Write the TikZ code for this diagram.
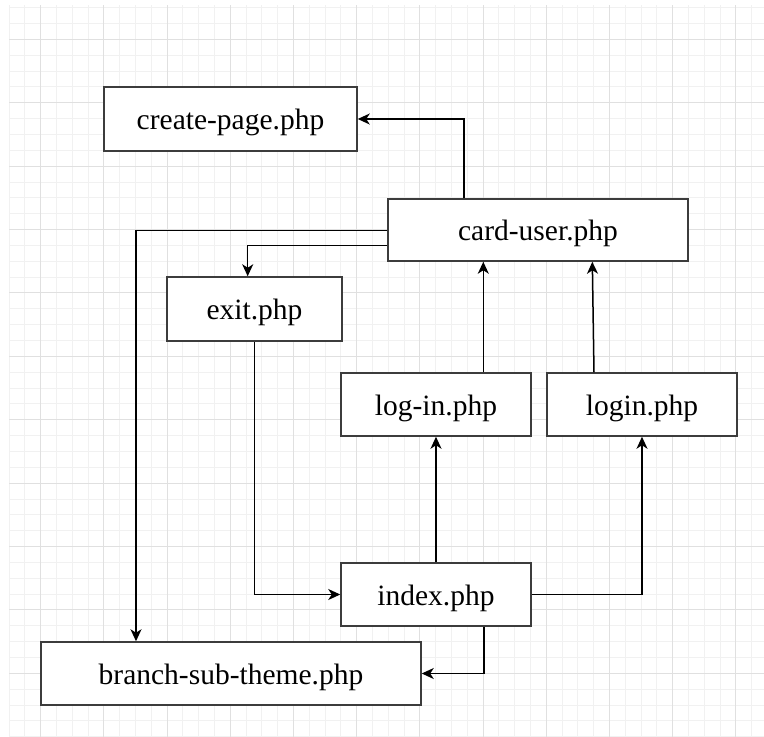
\documentclass[tikz,border=0pt]{standalone}
\usepackage{fontspec}
\setmainfont{Liberation Serif}
\usetikzlibrary{arrows.meta}
\definecolor{gridminor}{HTML}{F1F1F1}
\definecolor{gridmajor}{HTML}{E0E0E0}
\definecolor{boxline}{HTML}{3C3C3C}
\tikzset{
  filebox/.style={draw=boxline, line width=1.5pt, fill=white, rectangle,
    inner sep=0pt, text height=25pt, text depth=3.6pt,
    font=\fontsize{29.5}{34}\selectfont},
  arr/.style={draw=black, line width=1.5pt,
    -{Stealth[length=12pt, width=11pt, inset=3.5pt]}},
}
\begin{document}
\begin{tikzpicture}[x=1pt, y=-1pt]
  % canvas and page bounds
  \fill[white] (0,0) rectangle (764,737);
  \useasboundingbox (0,0) rectangle (764,737);

  % background grid
  \begin{scope}
    \clip (9,5) rectangle (764,737);
    \foreach \i in {0,...,48}
      \draw[gridminor, line width=0.9pt] ({9.1+15.8*\i},0) -- ({9.1+15.8*\i},737);
    \foreach \j in {0,...,46}
      \draw[gridminor, line width=0.9pt] (0,{7.6+15.85*\j}) -- (764,{7.6+15.85*\j});
    \foreach \i in {0,...,11}
      \draw[gridmajor, line width=1pt] ({40.7+63.2*\i},0) -- ({40.7+63.2*\i},737);
    \foreach \j in {0,...,10}
      \draw[gridmajor, line width=1pt] (0,{39.3+63.4*\j}) -- (764,{39.3+63.4*\j});
  \end{scope}

  % files
  \node[filebox, minimum width=253pt, minimum height=64pt] (create) at (230.5,119) {create-page.php};
  \node[filebox, minimum width=300pt, minimum height=62pt] (card) at (538,230) {card-user.php};
  \node[filebox, minimum width=175pt, minimum height=64pt] (exit) at (254.5,309) {exit.php};
  \node[filebox, minimum width=190pt, minimum height=63pt] (logdash) at (436,404.5) {log-in.php};
  \node[filebox, minimum width=190pt, minimum height=63pt] (login) at (642,404.5) {login.php};
  \node[filebox, minimum width=190pt, minimum height=63pt] (index) at (436,594.5) {index.php};
  \node[filebox, minimum width=380pt, minimum height=63pt] (branch) at (231,673.5) {branch-sub-theme.php};

  % links between files
  \draw[arr] ([xshift=-74pt]card.north) |- (create.east);
  \draw[arr] ([yshift=-0.7pt]card.west) -| ([xshift=-95pt]branch.north);
  \draw[arr] ([yshift=-15.7pt]card.west) -| ([xshift=-6.8pt]exit.north);
  \draw[arr] (exit.south) |- (index.west);
  \draw[arr] (index.north) -- (logdash.south);
  \draw[arr] (index.east) -| (login.south);
  \draw[arr] ([xshift=48pt]index.south) |- (branch.east);
  \draw[arr] ([xshift=47.3pt]logdash.north) -- ([xshift=47.3pt]logdash.north |- card.south);
  \draw[arr] ([xshift=-48pt]login.north) -- ([xshift=54.3pt]card.south);
\end{tikzpicture}
\end{document}
